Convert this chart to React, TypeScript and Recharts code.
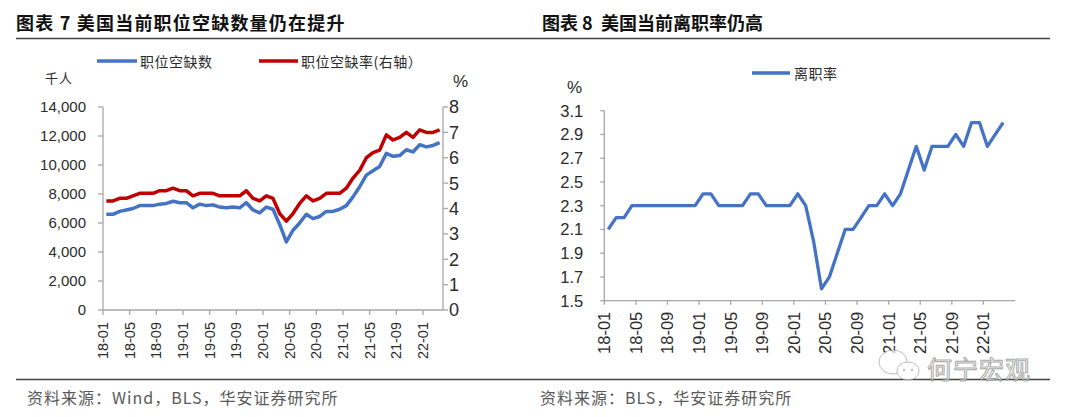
import React from 'react';
import { LineChart, Line, XAxis, YAxis } from 'recharts';

// ---------- data ----------
const months = [
  '18-01','18-02','18-03','18-04','18-05','18-06','18-07','18-08','18-09','18-10','18-11','18-12',
  '19-01','19-02','19-03','19-04','19-05','19-06','19-07','19-08','19-09','19-10','19-11','19-12',
  '20-01','20-02','20-03','20-04','20-05','20-06','20-07','20-08','20-09','20-10','20-11','20-12',
  '21-01','21-02','21-03','21-04','21-05','21-06','21-07','21-08','21-09','21-10','21-11','21-12',
  '22-01','22-02','22-03',
];

// 职位空缺数（千人）
const jobOpenings = [
  6600, 6600, 6800, 6900, 7000, 7200, 7200, 7200, 7300, 7350, 7500, 7400,
  7400, 7050, 7300, 7200, 7250, 7100, 7050, 7100, 7050, 7400, 6900, 6700,
  7100, 6950, 5900, 4700, 5500, 6000, 6600, 6300, 6450, 6800, 6800, 6950,
  7200, 7800, 8500, 9300, 9600, 9900, 10800, 10600, 10650, 11050, 10900, 11400,
  11250, 11350, 11550,
];

// 职位空缺率（%，右轴）
const openingsRate = [
  4.3, 4.3, 4.4, 4.4, 4.5, 4.6, 4.6, 4.6, 4.7, 4.7, 4.8, 4.7,
  4.7, 4.5, 4.6, 4.6, 4.6, 4.5, 4.5, 4.5, 4.5, 4.7, 4.4, 4.3,
  4.5, 4.4, 3.8, 3.5, 3.8, 4.2, 4.5, 4.3, 4.4, 4.6, 4.6, 4.6,
  4.8, 5.2, 5.5, 6.0, 6.2, 6.3, 6.9, 6.7, 6.8, 7.0, 6.8, 7.1,
  7.0, 7.0, 7.1,
];

// 离职率（%）
const quitsRate = [
  2.1, 2.2, 2.2, 2.3, 2.3, 2.3, 2.3, 2.3, 2.3, 2.3, 2.3, 2.3,
  2.4, 2.4, 2.3, 2.3, 2.3, 2.3, 2.4, 2.4, 2.3, 2.3, 2.3, 2.3,
  2.4, 2.3, 2.0, 1.6, 1.7, 1.9, 2.1, 2.1, 2.2, 2.3, 2.3, 2.4,
  2.3, 2.4, 2.6, 2.8, 2.6, 2.8, 2.8, 2.8, 2.9, 2.8, 3.0, 3.0,
  2.8, 2.9, 3.0,
];

const xTickLabels = ['18-01','18-05','18-09','19-01','19-05','19-09','20-01','20-05','20-09','21-01','21-05','21-09','22-01'];
const leftTicks = [0, 2000, 4000, 6000, 8000, 10000, 12000, 14000];
const rightTicks = [0, 1, 2, 3, 4, 5, 6, 7, 8];
const quitsTicks = [1.5, 1.7, 1.9, 2.1, 2.3, 2.5, 2.7, 2.9, 3.1];

const titleLeft = '图表 7 美国当前职位空缺数量仍在提升';
const titleRight = '图表 8  美国当前离职率仍高';
const legendLeft = ['职位空缺数', '职位空缺率(右轴）'];
const legendRight = ['离职率'];
const sourceLeft = '资料来源：Wind，BLS，华安证券研究所';
const sourceRight = '资料来源：BLS，华安证券研究所';

const BLUE = '#4472C4';
const RED = '#C00000';
const AXIS = '#A6A6A6';
const TXT = '#2b2b2b';
const LATIN = '"Liberation Sans", Arial, sans-serif';
const CJK = '"Noto Sans CJK SC", "Liberation Sans", sans-serif';

const leftData = months.map((m, i) => ({ x: i + 0.5, month: m, openings: jobOpenings[i], rate: openingsRate[i] }));
const rightData = months.map((m, i) => ({ x: i + 0.5, month: m, quits: quitsRate[i] }));
const xTickPositions = xTickLabels.map((l) => months.indexOf(l));

const makeRotTick = (fontSize: number) => (props: any) => {
  const { x, y, payload } = props;
  const label = months[payload.value];
  return (
    <text
      x={x}
      y={y}
      transform={`rotate(-90 ${x} ${y})`}
      textAnchor="end"
      dominantBaseline="central"
      fontSize={fontSize}
      fontFamily={LATIN}
      fill={TXT}
    >
      {label}
    </text>
  );
};

const LeftTick = makeRotTick(14.5);
const RightTick = makeRotTick(16.5);

export default function App() {
  return (
    <div style={{ position: 'absolute', left: 0, top: 0, width: 1080, height: 417, background: '#fff', overflow: 'hidden' }}>
      <div style={{ position: 'absolute', left: 0, top: 0 }}>
        <LineChart width={540} height={417} data={leftData} margin={{ top: 107, right: 57, bottom: 47, left: 43 }}>
          <XAxis
            dataKey="x"
            type="number"
            domain={[0, 51]}
            ticks={xTickPositions}
            interval={0}
            height={60}
            tickSize={5}
            tickMargin={7}
            tick={<LeftTick />}
            axisLine={{ stroke: AXIS, strokeWidth: 1.3 }}
            tickLine={{ stroke: AXIS, strokeWidth: 1.3 }}
          />
          <YAxis
            yAxisId="left"
            domain={[0, 14000]}
            ticks={leftTicks}
            interval={0}
            width={60}
            tickSize={5}
            tickMargin={12}
            tickFormatter={(v: number) => v.toLocaleString('en-US')}
            tick={{ fill: TXT, fontSize: 15, fontFamily: LATIN }}
            axisLine={{ stroke: AXIS, strokeWidth: 1.3 }}
            tickLine={{ stroke: AXIS, strokeWidth: 1.3 }}
          />
          <YAxis
            yAxisId="right"
            orientation="right"
            domain={[0, 8]}
            ticks={rightTicks}
            interval={0}
            width={40}
            tickSize={5}
            tickMargin={1}
            tick={{ fill: TXT, fontSize: 18, fontFamily: LATIN }}
            axisLine={{ stroke: AXIS, strokeWidth: 1.3 }}
            tickLine={{ stroke: AXIS, strokeWidth: 1.3 }}
          />
          <Line yAxisId="left" type="linear" dataKey="openings" stroke={BLUE} strokeWidth={3.5} dot={false} strokeLinejoin="round" isAnimationActive={false} />
          <Line yAxisId="right" type="linear" dataKey="rate" stroke={RED} strokeWidth={3.5} dot={false} strokeLinejoin="round" isAnimationActive={false} />
        </LineChart>
      </div>

      <div style={{ position: 'absolute', left: 540, top: 0 }}>
        <LineChart width={540} height={417} data={rightData} margin={{ top: 110.7, right: 65, bottom: 56.3, left: 4.3 }}>
          <XAxis
            dataKey="x"
            type="number"
            domain={[0, 52]}
            ticks={xTickPositions}
            interval={0}
            height={60}
            tickSize={4}
            tickMargin={7}
            tick={<RightTick />}
            axisLine={{ stroke: AXIS, strokeWidth: 1.3 }}
            tickLine={{ stroke: AXIS, strokeWidth: 1.3 }}
          />
          <YAxis
            domain={[1.5, 3.1]}
            ticks={quitsTicks}
            interval={0}
            width={60}
            tickSize={4}
            tickMargin={17}
            tickFormatter={(v: number) => v.toFixed(1)}
            tick={{ fill: TXT, fontSize: 16.5, fontFamily: LATIN }}
            axisLine={{ stroke: AXIS, strokeWidth: 1.3 }}
            tickLine={{ stroke: AXIS, strokeWidth: 1.3 }}
          />
          <Line type="linear" dataKey="quits" stroke={BLUE} strokeWidth={3.3} dot={false} strokeLinejoin="round" isAnimationActive={false} />
        </LineChart>
      </div>

      <svg width={1080} height={417} style={{ position: 'absolute', left: 0, top: 0, pointerEvents: 'none' }}>
        {/* titles */}
        <text x={16} y={30} fontSize={18} fontWeight="bold" fontFamily={CJK} fill="#111" letterSpacing={1.2} style={{ whiteSpace: 'pre' }}>{titleLeft}</text>
        <text x={542} y={30} fontSize={18} fontWeight="bold" fontFamily={CJK} fill="#111" style={{ whiteSpace: 'pre' }}>{titleRight}</text>
        <line x1={16} y1={38.5} x2={1050} y2={38.5} stroke="#404040" strokeWidth={1.5} />
        <line x1={16} y1={379.5} x2={1050} y2={379.5} stroke="#404040" strokeWidth={1.5} />

        {/* left legend */}
        <line x1={97} y1={61} x2={137} y2={61} stroke={BLUE} strokeWidth={3.5} />
        <text x={140} y={61} dominantBaseline="central" fontSize={14} fontFamily={CJK} fill={TXT} letterSpacing={0.5}>{legendLeft[0]}</text>
        <line x1={259} y1={61} x2={298} y2={61} stroke={RED} strokeWidth={3.5} />
        <text x={301} y={61} dominantBaseline="central" fontSize={14} fontFamily={CJK} fill={TXT} letterSpacing={0.5}>{legendLeft[1]}</text>

        {/* units */}
        <text x={45} y={77} dominantBaseline="central" fontSize={13} fontFamily={CJK} fill={TXT} letterSpacing={1}>千人</text>
        <text x={453} y={81} dominantBaseline="central" fontSize={17} fontFamily={LATIN} fill={TXT}>%</text>
        <text x={567} y={87} dominantBaseline="central" fontSize={17} fontFamily={LATIN} fill={TXT}>%</text>

        {/* right legend */}
        <line x1={752} y1={73} x2={790} y2={73} stroke={BLUE} strokeWidth={3.5} />
        <text x={794} y={73} dominantBaseline="central" fontSize={14} fontFamily={CJK} fill={TXT} letterSpacing={0.5}>{legendRight[0]}</text>

        {/* sources */}
        <text x={27} y={397} dominantBaseline="central" fontSize={16} fontFamily={CJK} fill="#595959" letterSpacing={1}>{sourceLeft}</text>
        <text x={540} y={397} dominantBaseline="central" fontSize={16} fontFamily={CJK} fill="#595959" letterSpacing={1}>{sourceRight}</text>

        {/* watermark */}
        <g opacity={0.75}>
          <ellipse cx={893} cy={362} rx={14} ry={12} fill="#fff" stroke="#aaa" strokeWidth={1} />
          <ellipse cx={908} cy={371} rx={11} ry={9} fill="#fff" stroke="#aaa" strokeWidth={1} />
          <circle cx={904} cy={370} r={1.2} fill="#aaa" />
          <circle cx={912} cy={370} r={1.2} fill="#aaa" />
          <text x={927} y={379} fontSize={25} fontFamily={CJK} fill="#fff" stroke="#8c8c8c" strokeWidth={1} letterSpacing={1}>何宁宏观</text>
        </g>
      </svg>
    </div>
  );
}
